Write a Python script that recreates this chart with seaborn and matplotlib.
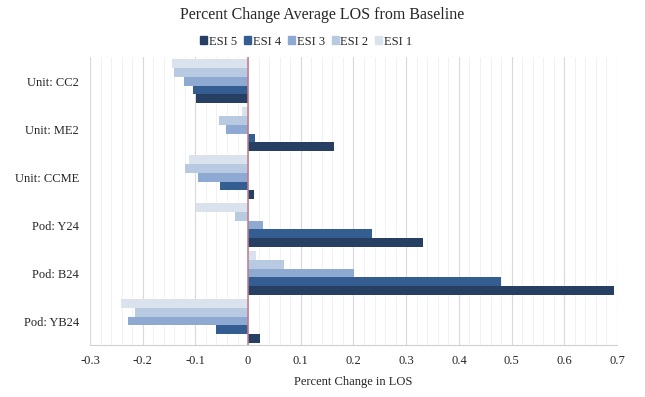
import numpy as np
import pandas as pd
import seaborn as sns
import matplotlib.pyplot as plt
from matplotlib.ticker import MultipleLocator
from matplotlib.patches import Patch

units = ['Unit: CC2', 'Unit: ME2', 'Unit: CCME', 'Pod: Y24', 'Pod: B24', 'Pod: YB24']
esi1 = [-0.145, -0.012, -0.112, -0.099, 0.015, -0.242]
esi2 = [-0.141, -0.055, -0.120, -0.025, 0.068, -0.215]
esi3 = [-0.122, -0.041, -0.095, 0.028, 0.201, -0.227]
esi4 = [-0.104, 0.014, -0.054, 0.235, 0.480, -0.060]
esi5 = [-0.099, 0.163, 0.011, 0.332, 0.695, 0.022]
series = ['ESI 1', 'ESI 2', 'ESI 3', 'ESI 4', 'ESI 5']
colors = ['#DAE2EE', '#B8C9E2', '#8FAAD2', '#345D91', '#263F62']

rows = []
for name, vals in zip(series, [esi1, esi2, esi3, esi4, esi5]):
    for u, v in zip(units, vals):
        rows.append({'unit': u, 'esi': name, 'change': v})
df = pd.DataFrame(rows)

sns.set_style('white')
plt.rcParams['font.family'] = ['Liberation Serif', 'DejaVu Serif']

fig = plt.figure(figsize=(6.45, 3.97), dpi=100)
ax = fig.add_axes([0.1395, 0.131, 0.8171, 0.725])

sns.barplot(data=df, x='change', y='unit', hue='esi', order=units, hue_order=series,
            palette=colors, orient='h', width=0.92, saturation=1, linewidth=0,
            ax=ax, legend=False)

ax.set_xlim(-0.3, 0.7)
ax.xaxis.set_major_locator(MultipleLocator(0.1))
ax.xaxis.set_minor_locator(MultipleLocator(0.02))
ax.set_xticklabels([f'{t:g}' if abs(t) > 1e-9 else '0' for t in np.round(ax.get_xticks(), 1)])
ax.grid(axis='x', which='major', color='#D9D9D9', lw=0.8)
ax.grid(axis='x', which='minor', color='#EFEFEF', lw=0.6)
ax.set_axisbelow(True)
ax.axvline(0, color='#C07A88', lw=1.1, zorder=5)

for s in ['top', 'right', 'left']:
    ax.spines[s].set_visible(False)
ax.spines['bottom'].set_color('#D0D0D0')
ax.tick_params(axis='x', which='both', direction='out', color='#D0D0D0', labelsize=9, pad=3)
ax.tick_params(axis='x', which='major', length=4)
ax.tick_params(axis='x', which='minor', length=3)
ax.tick_params(axis='y', length=0, labelsize=9, pad=8)
ax.set_ylabel('')
ax.set_xlabel('Percent Change in LOS', fontsize=9, labelpad=7)

fig.text(0.5, 0.962, 'Percent Change Average LOS from Baseline', ha='center', va='center', fontsize=11.5)
handles = [Patch(color=c, label=s) for s, c in zip(series[::-1], colors[::-1])]
fig.legend(handles=handles, loc='center', bbox_to_anchor=(0.475, 0.895), ncol=5, frameon=False,
           fontsize=9, handlelength=0.55, handleheight=0.55, handletextpad=0.15, columnspacing=0.55)

fig.savefig('out.png', dpi=100)
